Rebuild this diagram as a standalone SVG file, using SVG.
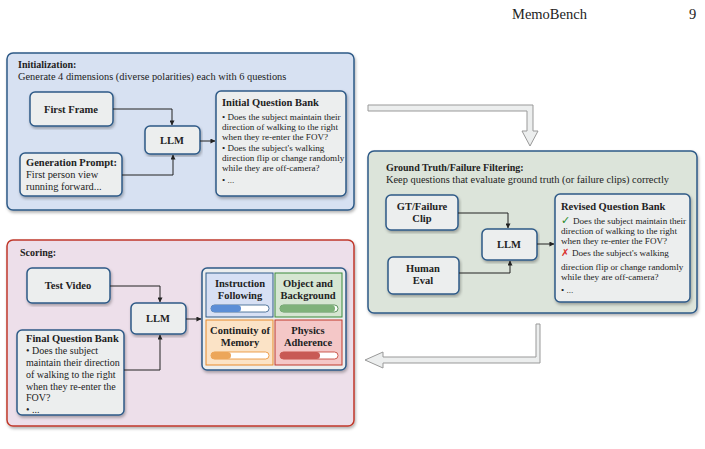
<svg xmlns="http://www.w3.org/2000/svg" width="705" height="449" viewBox="0 0 705 449">
<defs>
<marker id="ah" viewBox="0 0 6 6" refX="5.5" refY="3" markerWidth="5" markerHeight="5" orient="auto"><path d="M0,0 L6,3 L0,6 z" fill="#222"/></marker>
<filter id="sh" x="-5%" y="-5%" width="110%" height="115%"><feDropShadow dx="1" dy="2" stdDeviation="1.5" flood-color="#000" flood-opacity="0.3"/></filter>
</defs>
<style>
text{font-family:"Liberation Serif","Times New Roman",serif;fill:#222}
.t{font-size:10px;font-weight:bold}
.s{font-size:10.4px}
.b{font-size:10.5px;font-weight:bold}
.q{font-size:9.1px}
.f{font-size:10px}
.box{fill:#eceeee;stroke:#2e5a87;stroke-width:1.5;filter:url(#sh)}
.c{fill:none;stroke:#222;stroke-width:1}
.big{fill:#eceeee;stroke:#999;stroke-width:1}
</style>
<rect width="705" height="449" fill="#fff"/>
<text x="512" y="19" style="font-size:14.5px">MemoBench</text>
<text x="689" y="19" style="font-size:14.5px">9</text>

<g id="init">
<rect x="7" y="53" width="347" height="157" rx="6" fill="#d7e1f2" stroke="#2e5a87" stroke-width="1.5" filter="url(#sh)"/>
<text x="18" y="68" class="t">Initialization:</text>
<text x="18" y="80" class="s">Generate 4 dimensions (diverse polarities) each with 6 questions</text>
</g>
<g id="first-frame"><rect x="30" y="92" width="83" height="34" rx="5" class="box"/><text x="71" y="113" class="b" text-anchor="middle">First Frame</text></g>
<g id="llm1"><rect x="145" y="126" width="55" height="28" rx="5" class="box"/><text x="172" y="144" class="b" text-anchor="middle">LLM</text></g>
<g id="gen-prompt"><rect x="20" y="153" width="102" height="43" rx="5" class="box"/>
<text x="26" y="166" class="b">Generation Prompt:</text>
<text x="26" y="178" class="s">First person view</text>
<text x="26" y="190" class="s">running forward...</text></g>
<g id="init-qb"><rect x="216" y="91" width="130" height="105" rx="5" class="box"/>
<text x="222" y="106" class="b">Initial Question Bank</text>
<text x="222" y="120" class="q">• Does the subject maintain their</text>
<text x="222" y="130" class="q">direction of walking to the right</text>
<text x="222" y="140" class="q">when they re-enter the FOV?</text>
<text x="222" y="151" class="q">• Does the subject's walking</text>
<text x="222" y="161" class="q">direction flip or change randomly</text>
<text x="222" y="171" class="q">while they are off-camera?</text>
<text x="222" y="183" class="q">• ...</text></g>

<g id="gt">
<rect x="368" y="151" width="329" height="162" rx="6" fill="#dce4da" stroke="#2e5a87" stroke-width="1.5" filter="url(#sh)"/>
<text x="386" y="171" class="t">Ground Truth/Failure Filtering:</text>
<text x="386" y="183" class="s">Keep questions that evaluate ground truth (or failure clips) correctly</text>
</g>
<g id="gt-clip"><rect x="386" y="195" width="72" height="35" rx="5" class="box"/><text x="422" y="210" class="b" text-anchor="middle">GT/Failure</text><text x="422" y="222" class="b" text-anchor="middle">Clip</text></g>
<g id="human"><rect x="388" y="257" width="71" height="37" rx="5" class="box"/><text x="423" y="272" class="b" text-anchor="middle">Human</text><text x="423" y="284" class="b" text-anchor="middle">Eval</text></g>
<g id="llm2"><rect x="482" y="229" width="55" height="31" rx="5" class="box"/><text x="509" y="248" class="b" text-anchor="middle">LLM</text></g>
<g id="rev-qb"><rect x="555" y="194" width="135" height="108" rx="5" class="box"/>
<text x="561" y="210" class="b">Revised Question Bank</text>
<text x="561" y="224" style="font-size:11px;font-family:'DejaVu Sans',sans-serif;fill:#2a8a2a">✓</text>
<text x="573" y="224" class="q">Does the subject maintain their</text>
<text x="561" y="234" class="q">direction of walking to the right</text>
<text x="561" y="244" class="q">when they re-enter the FOV?</text>
<text x="561" y="256" style="font-size:10px;font-family:'DejaVu Sans',sans-serif;fill:#d9302c">✗</text>
<text x="572" y="256" class="q">Does the subject's walking</text>
<text x="561" y="270" class="q">direction flip or change randomly</text>
<text x="561" y="280" class="q">while they are off-camera?</text>
<text x="561" y="293" class="q">• ...</text></g>

<g id="scoring">
<rect x="7" y="240" width="347" height="186" rx="6" fill="#eddfea" stroke="#c0392b" stroke-width="1.5" filter="url(#sh)"/>
<text x="20" y="256" class="t">Scoring:</text>
</g>
<g id="test-video"><rect x="27" y="268" width="83" height="35" rx="5" class="box"/><text x="68" y="289" class="b" text-anchor="middle">Test Video</text></g>
<g id="llm3"><rect x="131" y="303" width="55" height="31" rx="5" class="box"/><text x="158" y="322" class="b" text-anchor="middle">LLM</text></g>
<g id="final-qb"><rect x="17" y="330" width="107" height="85" rx="5" class="box"/>
<text x="26" y="342" class="b">Final Question Bank</text>
<text x="26" y="354" class="f">• Does the subject</text>
<text x="26" y="366" class="f">maintain their direction</text>
<text x="26" y="378" class="f">of walking to the right</text>
<text x="26" y="390" class="f">when they re-enter the</text>
<text x="26" y="401" class="f">FOV?</text>
<text x="26" y="413" class="f">• ...</text></g>
<g id="results">
<rect x="202" y="268" width="144" height="102" rx="5" class="box"/>
<rect x="206" y="273" width="67" height="44" fill="#d7e0f4" stroke="#2e5a87" stroke-width="1"/>
<text x="240" y="287" class="b" text-anchor="middle">Instruction</text><text x="240" y="299" class="b" text-anchor="middle">Following</text>
<rect x="211" y="305" width="58" height="7" rx="3.5" fill="#fff" stroke="#2e5a87" stroke-width="0.8"/><rect x="211" y="305" width="30" height="7" rx="3.5" fill="#5b8ed6"/>
<rect x="275" y="273" width="67" height="44" fill="#d6e6d2" stroke="#3a8a3a" stroke-width="1"/>
<text x="308" y="287" class="b" text-anchor="middle">Object and</text><text x="308" y="299" class="b" text-anchor="middle">Background</text>
<rect x="280" y="305" width="58" height="7" rx="3.5" fill="#fff" stroke="#3a7a3a" stroke-width="0.8"/><rect x="280" y="305" width="55" height="7" rx="3.5" fill="#7fb27a"/>
<rect x="206" y="320" width="67" height="45" fill="#fbe3c6" stroke="#e88a2a" stroke-width="1"/>
<text x="240" y="334" class="b" text-anchor="middle">Continuity of</text><text x="240" y="346" class="b" text-anchor="middle">Memory</text>
<rect x="211" y="352" width="58" height="7" rx="3.5" fill="#fff" stroke="#e88a2a" stroke-width="0.8"/><rect x="211" y="352" width="20" height="7" rx="3.5" fill="#eca65a"/>
<rect x="275" y="320" width="67" height="45" fill="#f4c7c7" stroke="#c0392b" stroke-width="1"/>
<text x="308" y="334" class="b" text-anchor="middle">Physics</text><text x="308" y="346" class="b" text-anchor="middle">Adherence</text>
<rect x="280" y="352" width="58" height="7" rx="3.5" fill="#fff" stroke="#c0392b" stroke-width="0.8"/><rect x="280" y="352" width="40" height="7" rx="3.5" fill="#c85a55"/>
</g>

<g id="connectors">
<path d="M113,109 H172 V125" class="c" marker-end="url(#ah)"/>
<path d="M122,175 H173 V155" class="c" marker-end="url(#ah)"/>
<path d="M200,141 H215" class="c" marker-end="url(#ah)"/>
<path d="M458,213 H508 V228" class="c" marker-end="url(#ah)"/>
<path d="M459,273 H510 V261" class="c" marker-end="url(#ah)"/>
<path d="M537,244 H554" class="c" marker-end="url(#ah)"/>
<path d="M110,286 H160 V302" class="c" marker-end="url(#ah)"/>
<path d="M124,370 H160 V335" class="c" marker-end="url(#ah)"/>
<path d="M186,319 H201" class="c" marker-end="url(#ah)"/>
<path d="M368,105 H533 V131 H538 L530,146 L522,131 H527 V111 H368 Z" class="big"/>
<path d="M540,324 V363 H383 V368 L365,360 L383,352 V357 H536 V324 Z" class="big"/>
</g>
</svg>
